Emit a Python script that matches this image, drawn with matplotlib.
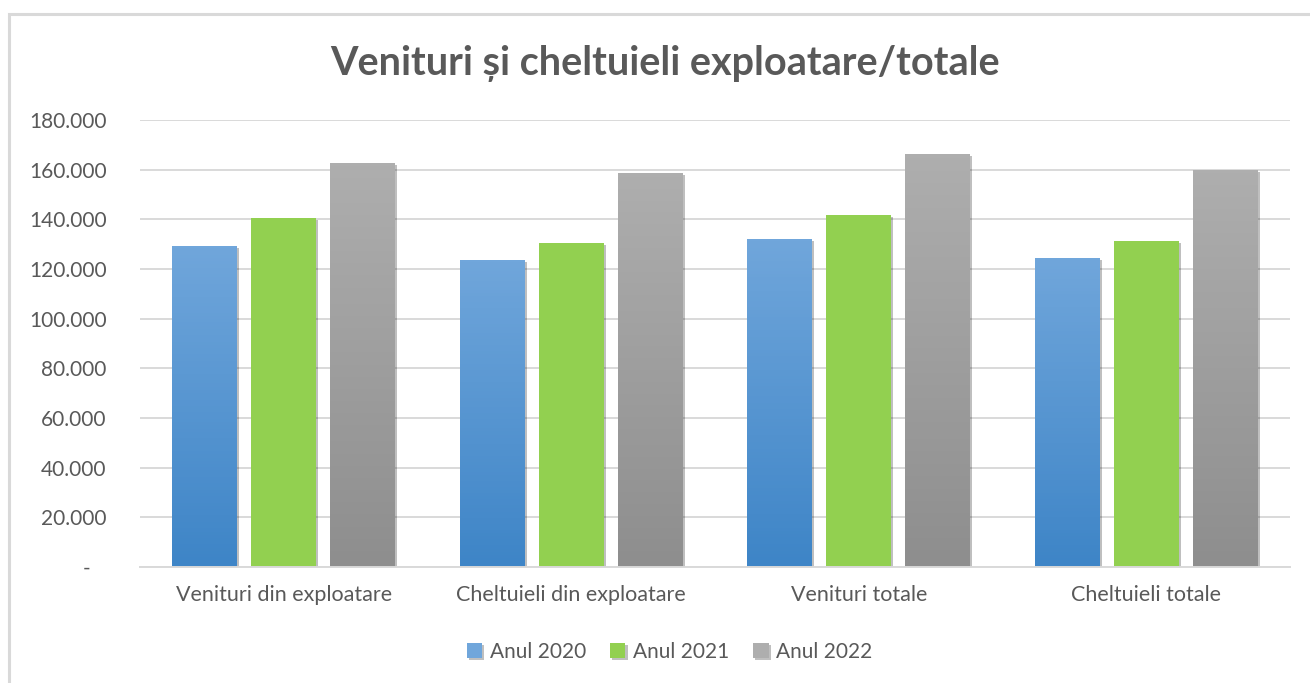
import matplotlib
matplotlib.use("Agg")
import matplotlib.pyplot as plt
import numpy as np
from matplotlib.colors import LinearSegmentedColormap
from matplotlib.patches import Rectangle
from matplotlib.ticker import FuncFormatter
import matplotlib.patheffects as pe

plt.rcParams['font.family'] = ['Lato', 'DejaVu Sans']

# date
categorii = ["Venituri din exploatare", "Cheltuieli din exploatare", "Venituri totale", "Cheltuieli totale"]
ani = ["Anul 2020", "Anul 2021", "Anul 2022"]
v2020 = [129300, 123700, 132100, 124500]
v2021 = [140400, 130400, 141900, 131200]
v2022 = [162700, 158600, 166300, 160000]
valori = [v2020, v2021, v2022]

# culori (sus, jos) pentru gradient
culori = [("#70a6db", "#3e85c7"), ("#92d050", "#92d050"), ("#aeaeae", "#8e8e8e")]
text_gri = "#595959"
linie_gri = "#d9d9d9"

fig = plt.figure(figsize=(13.1, 6.83), dpi=100)
ax = fig.add_axes([140 / 1310, 1 - 567 / 683, 1150 / 1310, 447 / 683])

x = np.arange(len(categorii))
w = 0.226
dx = 0.275
umbra = [pe.SimplePatchShadow(offset=(1.5, -1.5), shadow_rgbFace="#000000", alpha=0.25), pe.Normal()]

for i, (serie, (sus, jos)) in enumerate(zip(valori, culori)):
    bare = ax.bar(x + (i - 1) * dx, serie, w, color=sus, label=ani[i], zorder=3)
    cmap = LinearSegmentedColormap.from_list("g%d" % i, [jos, sus])
    for b in bare:
        b.set_path_effects(umbra)
        if sus != jos:
            x0 = b.get_x()
            h = b.get_height()
            grad = np.linspace(0, 1, 100).reshape(-1, 1)
            im = ax.imshow(grad, extent=[x0, x0 + w, 0, h], origin="lower",
                           aspect="auto", cmap=cmap, zorder=4)
            im.set_clip_path(b)

ax.set_xlim(-0.5, len(categorii) - 0.5)
ax.set_ylim(0, 180000)
ax.set_yticks(np.arange(0, 180001, 20000))

def fmt(v, pos):
    if v == 0:
        return "-   "
    return "{:,.0f}".format(v).replace(",", ".")

ax.yaxis.set_major_formatter(FuncFormatter(fmt))
ax.set_xticks(x)
ax.set_xticklabels(categorii)
ax.tick_params(axis="both", length=0, labelsize=15, labelcolor=text_gri)
ax.tick_params(axis="x", labelsize=15.5, pad=13)
ax.tick_params(axis="y", pad=24)
ax.grid(axis="y", color=linie_gri, linewidth=1.4, zorder=0)
for s in ["top", "right", "left"]:
    ax.spines[s].set_visible(False)
ax.spines["bottom"].set_color(linie_gri)
ax.spines["bottom"].set_linewidth(1.4)
ax.spines["bottom"].set_zorder(5)

fig.text(0.508, 1 - 63 / 683, "Venituri și cheltuieli exploatare/totale", ha="center", va="center",
         fontsize=28.5, fontweight="bold", color=text_gri)

fig.legend(loc="center", bbox_to_anchor=(0.511, 1 - 652 / 683), ncol=3, frameon=False,
           fontsize=15, labelcolor=text_gri, handlelength=0.75, handleheight=0.75,
           handletextpad=0.35, columnspacing=1.15)

# chenarul graficului
fig.patches.append(Rectangle((9 / 1310, -0.1), 1.2, 1 - 14 / 683 + 0.1, transform=fig.transFigure,
                             fill=False, edgecolor=linie_gri, linewidth=2.2))

fig.savefig("out.png", dpi=100)
